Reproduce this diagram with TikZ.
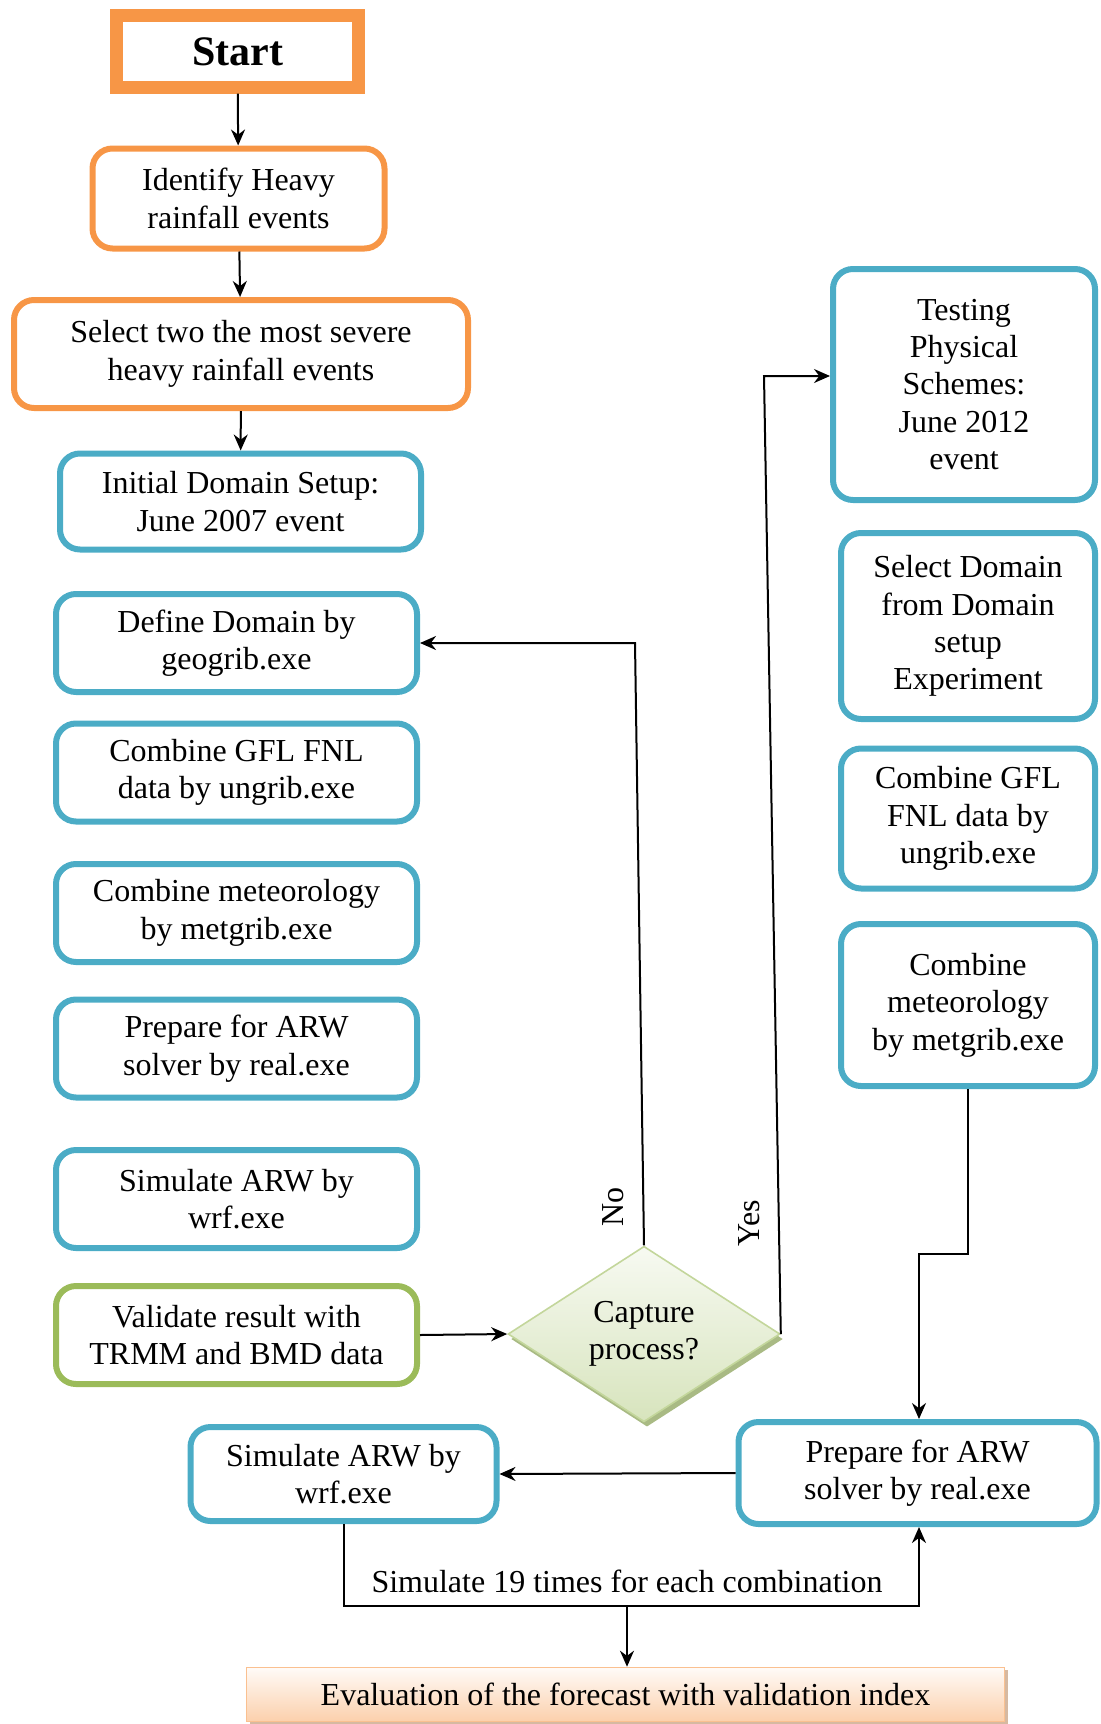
\documentclass[tikz,border=0pt]{standalone}
\usepackage{fontspec}
\setmainfont{Liberation Serif}
\usetikzlibrary{arrows.meta, shapes.geometric, shadows}

\definecolor{boxblue}{HTML}{4BACC6}
\definecolor{boxorange}{HTML}{F79646}
\definecolor{boxgreen}{HTML}{9BBB59}

\begin{document}
\begin{tikzpicture}[>={Stealth[length=8pt,width=7pt]}, x=0.5pt, y=-0.5pt, align=center, font=\fontsize{16}{18.7}\selectfont,
  blockbox/.style={rectangle, rounded corners=10pt, draw=boxblue, line width=3pt, minimum width=180.5pt, minimum height=49pt, inner sep=2pt},
  orangebox/.style={blockbox, draw=boxorange},
  greenbox/.style={blockbox, draw=boxgreen},
  decision/.style={diamond, draw=boxgreen!60, line width=0.8pt, top color=boxgreen!8, bottom color=boxgreen!40, minimum width=136pt, minimum height=82pt, inner sep=0pt, drop shadow={fill=boxgreen!70!gray, shadow xshift=1.5pt, shadow yshift=-2.5pt, opacity=0.8}},
  line/.style={->, line width=1pt}]
  \useasboundingbox (0,0) rectangle (1100,1724);

  % left column
  \node[rectangle, draw=boxorange, line width=4.6pt, minimum width=122.5pt, minimum height=37.5pt, font=\fontsize{21}{25}\selectfont\bfseries] (start) at (237.5,51.5) {Start};
  \draw[boxorange, line width=1.3pt] ([xshift=5.6pt,yshift=-5.6pt]start.north west) rectangle ([xshift=-5.6pt,yshift=5.6pt]start.south east);
  \node[orangebox, minimum width=146pt, minimum height=50pt] (identify) at (238.5,198.5) {Identify Heavy\\rainfall events};
  \node[orangebox, minimum width=227pt, minimum height=54pt] (severe) at (241,354) {Select two the most severe\\heavy rainfall events};
  \node[blockbox, minimum height=48pt] (initdom) at (240.5,501.5) {Initial Domain Setup:\\June 2007 event};
  \node[blockbox] (define) at (236.5,643) {Define Domain by\\geogrib.exe};
  \node[blockbox] (ungrib) at (236.5,772.5) {Combine GFL FNL\\data by ungrib.exe};
  \node[blockbox] (metgrid) at (236.5,913) {Combine meteorology\\by metgrib.exe};
  \node[blockbox] (real) at (236.5,1048.5) {Prepare for ARW\\solver by real.exe};
  \node[blockbox] (wrf) at (236.5,1199) {Simulate ARW by\\wrf.exe};
  \node[greenbox] (validate) at (236.5,1335) {Validate result with\\TRMM and BMD data};
  \node[decision] (capture) at (644,1334) {Capture\\process?};

  % right column
  \node[blockbox, minimum width=131pt, minimum height=115.5pt] (testing) at (964,384.5) {Testing\\Physical\\Schemes:\\June 2012\\event};
  \node[blockbox, minimum width=127pt, minimum height=93pt] (seldomain) at (968,626) {Select Domain\\from Domain\\setup\\Experiment};
  \node[blockbox, minimum width=127pt, minimum height=70pt] (ungribR) at (968,818.5) {Combine GFL\\FNL data by\\ungrib.exe};
  \node[blockbox, minimum width=127pt, minimum height=81pt] (metgridR) at (968,1005) {Combine\\meteorology\\by metgrib.exe};

  % bottom row
  \node[blockbox, minimum width=153pt, minimum height=47pt] (wrfB) at (343.5,1474) {Simulate ARW by\\wrf.exe};
  \node[blockbox, minimum width=179pt, minimum height=51pt] (realB) at (917.5,1473) {Prepare for ARW\\solver by real.exe};
  \node[rectangle, draw=boxorange!60, line width=0.8pt, top color=boxorange!4, bottom color=boxorange!45, minimum width=379pt, minimum height=27pt, inner sep=0pt, drop shadow={fill=boxorange!50!gray, shadow xshift=1.5pt, shadow yshift=-1pt, opacity=0.6}] (eval) at (625.5,1694.5) {Evaluation of the forecast with validation index};

  \node[rotate=90] (nolabel) at (613,1207) {No};
  \node[rotate=90] (yeslabel) at (749,1223) {Yes};
  \node (loopnote) at (627,1581) {Simulate 19 times for each combination};

  \coordinate (noturn) at (635,643);
  \coordinate (yesturn) at (764,376);
  \coordinate (realturn) at (919,1254);
  \coordinate (loopend) at (919,1606);
  \coordinate (loopmid) at (627,1606);

  \draw[line] (start) -- (identify);
  \draw[line] (identify) -- (severe);
  \draw[line] (severe) -- (initdom);
  \draw[line] (validate.east) -- (capture.west);
  \draw[line] (capture.north) -- (noturn) -- (define.east);
  \draw[line] (capture.east) -- (yesturn) -- (yesturn -| testing.west);
  \draw[line] (metgridR.south) |- (realturn) -- (realturn |- realB.north);
  \draw[line] (realB.west) -- (wrfB.east);
  \draw[line] (wrfB.south) |- (loopend) -- (loopend |- realB.south);
  \draw[line] (loopmid) -- (loopmid |- eval.north);
\end{tikzpicture}
\end{document}
